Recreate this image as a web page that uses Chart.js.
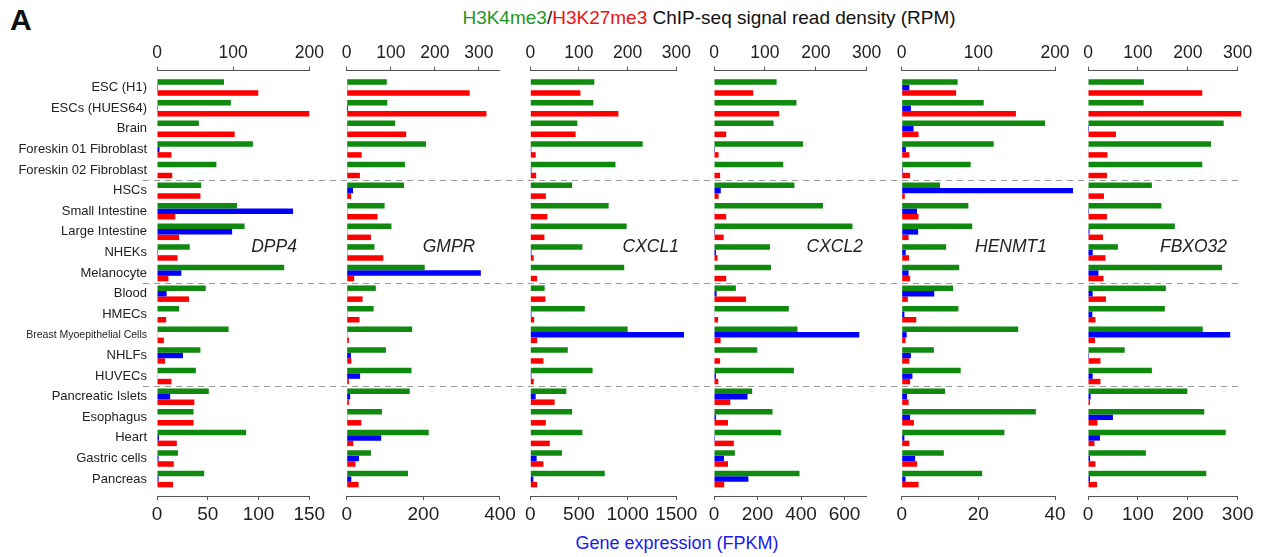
<!DOCTYPE html>
<html>
<head>
<meta charset="utf-8">
<script src="https://cdn.jsdelivr.net/npm/chart.js@4/dist/chart.umd.min.js"></script>
<style>
  body { margin: 0; background: #fff; font-family: "Liberation Sans", Arial, sans-serif; }
  #wrap { position: relative; width: 1267px; height: 557px; overflow: hidden; }
  #wrap canvas { position: absolute; left: 0; top: 0; }
  .txt { position: absolute; white-space: nowrap; line-height: 1; color: #111; }
</style>
</head>
<body>
<div id="wrap">
  <div class="txt" style="left:10px;top:5px;font-size:30px;font-weight:bold;">A</div>
  <div class="txt" style="left:709px;top:8px;font-size:19px;transform:translateX(-50%);"><span style="color:#1e961e">H3K4me3</span>/<span style="color:#f01010">H3K27me3</span> ChIP-seq signal read density (RPM)</div>
  <div class="txt" style="left:677px;top:534px;font-size:18px;color:#1a1aee;transform:translateX(-50%);">Gene expression (FPKM)</div>
</div>
<script>
// row labels (top to bottom)
const categories = ['ESC (H1)', 'ESCs (HUES64)', 'Brain', 'Foreskin 01 Fibroblast', 'Foreskin 02 Fibroblast',
  'HSCs', 'Small Intestine', 'Large Intestine', 'NHEKs', 'Melanocyte',
  'Blood', 'HMECs', 'Breast Myoepithelial Cells', 'NHLFs', 'HUVECs',
  'Pancreatic Islets', 'Esophagus', 'Heart', 'Gastric cells', 'Pancreas'];
// dashed separators after these row counts
const groupBreaks = [5, 10, 15];

const genes = ['DPP4', 'GMPR', 'CXCL1', 'CXCL2', 'HENMT1', 'FBXO32'];

// H3K4me3 read density (RPM), one list per gene
const k4me3 = [
  [88, 97, 55, 126, 78, 58, 105, 115, 43, 167, 64, 29, 94, 57, 51, 68, 48, 117, 27.5, 62],
  [91, 92, 110, 180, 132, 130, 86, 101.5, 63, 177, 66, 61, 148.5, 89, 147, 143, 80, 186, 55, 139],
  [131.5, 129.5, 96.6, 231, 175, 86, 161, 198, 107, 193, 29.5, 112, 200, 77, 128, 74, 86, 107, 65, 153],
  [123, 162, 117, 175, 136, 158, 214, 272, 110, 112, 43, 147, 164, 85, 157, 75, 115, 132, 41, 168],
  [73, 107, 187, 120, 90, 50, 87, 92, 58, 75, 67, 74, 152, 42, 77, 56.5, 175, 134, 55, 105],
  [112, 111.5, 272, 246.5, 229, 128, 147, 174, 60, 268.5, 156, 154, 230, 73.5, 128, 199, 233, 276, 116, 237]
];
// H3K27me3 read density (RPM)
const k27me3 = [
  [133, 200, 102, 19, 20, 57, 24, 29, 27, 15, 42, 12, 9, 10.5, 19, 49, 48, 26, 22, 21],
  [279, 317, 135, 34, 30, 10, 70, 55, 83, 17, 36, 29, 5, 10.6, 5, 5, 33, 15, 20, 27],
  [103, 181, 93, 11, 12, 32, 35, 29, 7, 14, 31, 8, 14, 27, 7, 50, 32, 40, 27, 14],
  [77, 128, 24, 9, 12, 9, 24, 19, 7, 24, 63, 8, 13, 12, 8.5, 32, 27.5, 39, 27.5, 20],
  [71, 149, 22, 10, 11, 4, 22, 9, 9.5, 11, 8, 19, 5, 10, 11, 9, 16, 10, 20, 22],
  [229, 307, 56, 39, 38, 32, 38, 30, 35, 31, 36, 15, 14, 25, 25, 4, 19, 13, 15, 18]
];
// gene expression (FPKM)
const fpkm = [
  [1, 1, 0, 2.5, 0.5, 0, 134, 74, 1, 24, 9.5, 0, 0.3, 25.6, 0.3, 13, 0, 2, 1.6, 1.6],
  [2, 3.5, 2, 2, 2, 16.5, 2, 2, 2, 350, 2, 2, 2, 11, 35, 9, 2, 90, 32, 12],
  [0, 0, 0, 10, 12, 0, 0, 0, 12, 0, 5, 12, 1579, 0, 12, 55, 0, 0, 65, 31],
  [0, 0, 0, 4.6, 0, 31, 3, 4.6, 9, 0, 12, 3, 668, 0, 9, 154, 9, 4.6, 46, 158],
  [2.0, 2.4, 3.1, 1.1, 0.3, 44.7, 4.0, 4.3, 1.05, 1.8, 8.5, 0.7, 1.3, 2.4, 2.8, 1.4, 2.2, 0.7, 3.5, 1.0],
  [0, 0, 2, 1.3, 0, 1.3, 2, 3, 9.4, 21, 9.4, 8.7, 285, 2, 9.4, 5.3, 50, 24, 4, 4]
];

// axis ranges and tick steps
const topMax = [200, 347.7, 300, 300, 200, 300];
const topStep = [100, 100, 100, 100, 100, 100];
const bottomMax = [150, 400, 1500, 702, 40, 300];
const bottomStep = [50, 200, 500, 200, 20, 100];

// panel placement on the page (px)
const panelBoxes = [
  { left: 157, right: 309.3, labelX: 274 },
  { left: 346.7, right: 500, labelX: 449 },
  { left: 530.3, right: 676.3, labelX: 650.7 },
  { left: 714, right: 866.7, labelX: 834.7 },
  { left: 901.7, right: 1055, labelX: 1011 },
  { left: 1088, right: 1237.7, labelX: 1193.5 }
];

const W = 1267, H = 557;
const GREEN = '#0f8a0f', RED = '#ff0000', BLUE = '#0000ff';
const AXIS = '#555';

Chart.defaults.font.family = '"Liberation Sans", Arial, Helvetica, sans-serif';
Chart.defaults.color = '#222';

const toPoints = (vals) => vals.map((v, k) => ({ x: v, y: k }));

const geneLabel = {
  id: 'geneLabel',
  afterDatasetsDraw(chart, args, opts) {
    const { ctx } = chart;
    const y = chart.scales.y.getPixelForValue(7.72);
    ctx.save();
    ctx.font = 'italic 17.5px "Liberation Sans", Arial, sans-serif';
    ctx.fillStyle = '#222';
    ctx.textAlign = 'center';
    ctx.textBaseline = 'middle';
    ctx.fillText(opts.text, opts.x, y);
    ctx.restore();
  }
};

const separators = {
  id: 'separators',
  beforeDatasetsDraw(chart) {
    const { ctx } = chart;
    const y = chart.scales.y;
    ctx.save();
    ctx.strokeStyle = '#9a9a9a';
    ctx.lineWidth = 1;
    ctx.setLineDash([6, 5]);
    groupBreaks.forEach(b => {
      const py = Math.round(y.getPixelForValue(b - 0.5)) + 0.5;
      ctx.beginPath();
      ctx.moveTo(143, py);
      ctx.lineTo(1242, py);
      ctx.stroke();
    });
    ctx.restore();
  }
};

const wrap = document.getElementById('wrap');

function xAxis(position, max, step, fontSize) {
  return {
    type: 'linear',
    position,
    min: 0,
    max,
    grid: { drawOnChartArea: false, drawTicks: true, tickLength: 4, color: AXIS, lineWidth: 1 },
    border: { display: true, color: AXIS, width: 1 },
    ticks: {
      stepSize: step,
      includeBounds: false,
      autoSkip: false,
      padding: 3.5,
      maxRotation: 0,
      color: '#222',
      font: { size: fontSize },
      callback: (v) => String(v)
    },
    afterFit: (s) => { s.height = 30; }
  };
}

function makePanel(i) {
  const canvas = document.createElement('canvas');
  canvas.width = W;
  canvas.height = H;
  wrap.appendChild(canvas);

  const box = panelBoxes[i];
  const first = i === 0;

  const yAxis = {
    type: 'linear',
    reverse: true,
    offset: false,
    min: -0.82,
    max: categories.length - 1 + 0.82,
    display: first,
    grid: { display: false, drawTicks: false, offset: false },
    border: { display: false },
    afterBuildTicks: (s) => { s.ticks = categories.map((c, k) => ({ value: k })); },
    ticks: {
      autoSkip: false,
      padding: 10,
      color: '#222',
      callback: (v) => categories[v],
      font: (ctx) => ({ size: ctx.tick && categories[ctx.tick.value].length > 24 ? 10.5 : 13 })
    }
  };
  if (first) yAxis.afterFit = (s) => { s.width = box.left; };

  const plugins = [geneLabel];
  if (first) plugins.push(separators);

  return new Chart(canvas, {
    type: 'bar',
    data: {
      datasets: [
        { label: 'H3K4me3', data: toPoints(k4me3[i]), xAxisID: 'xt', backgroundColor: GREEN, clip: false },
        { label: 'Gene expression', data: toPoints(fpkm[i]), xAxisID: 'xb', backgroundColor: BLUE, clip: false },
        { label: 'H3K27me3', data: toPoints(k27me3[i]), xAxisID: 'xt', backgroundColor: RED, clip: false }
      ]
    },
    options: {
      responsive: false,
      animation: false,
      indexAxis: 'y',
      layout: { padding: { left: first ? 0 : box.left, right: W - box.right, top: 40.7, bottom: 31 } },
      datasets: { bar: { categoryPercentage: 0.8, barPercentage: 1, borderWidth: 0 } },
      plugins: {
        legend: { display: false },
        tooltip: { enabled: false },
        geneLabel: { text: genes[i], x: box.labelX }
      },
      scales: {
        y: yAxis,
        xt: xAxis('top', topMax[i], topStep[i], 17.5),
        xb: xAxis('bottom', bottomMax[i], bottomStep[i], 19)
      }
    },
    plugins
  });
}

genes.forEach((g, i) => makePanel(i));
</script>
</body>
</html>
